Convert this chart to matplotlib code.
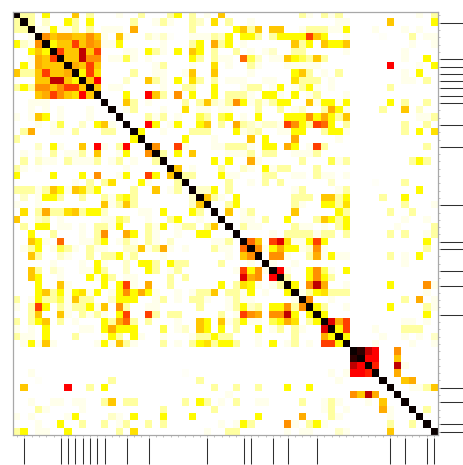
import numpy as np
import matplotlib
matplotlib.use("Agg")
import matplotlib.pyplot as plt

N = 58
# Colour level of each cell above the diagonal, {column: level} per row.
upper = [
 {1:2,2:2,4:3,8:4,10:2,14:1,17:2,21:2,22:3,24:2,26:1,28:4,39:2,40:1,42:2,43:1,44:2,55:1,57:2},
 {2:2,4:1.5,7:3,8:2,10:3,16:2,19:1,20:2,21:1,24:2,25:1.5,27:3.5,29:2,32:1,44:1,45:1,51:4,57:3},
 {3:1,4:1,5:3,6:1,7:1,8:2,10:2,12:1,13:1,14:1,16:4.5,24:2,30:3,31:4,32:2,33:4,35:4,36:4,39:1,40:2,41:2,42:2,43:1,44:1,45:3,49:1,53:1,55:1},
 {4:5,5:4,6:4.5,7:4.5,8:4,9:4,10:5,11:4,12:1,14:4,15:1,18:1.5,19:1,20:1.5,21:0.5,24:1,25:1,26:1,27:2,28:1.5,29:3,31:3,32:3,33:2,35:2,36:3,37:3,38:3,39:3,40:6,41:4,42:3,45:1,50:0.5,54:2,56:1,57:1},
 {5:3,6:4,7:4,8:6,9:4,10:5,11:4.5,12:1,13:1,14:3,20:1,24:2,25:3,27:4.5,28:2,29:3,31:1,38:4,39:2,40:3,42:4,43:3,44:3,45:4,54:1,57:1},
 {6:6,7:4,8:4,9:8,10:4,11:6,15:1,16:1,18:3,19:2,20:1,22:3,24:4,25:3,27:2,30:2,32:1,34:1,35:1.5,38:2,39:2,45:1,53:1},
 {7:4,8:4,9:8,10:5,11:5,13:1,14:1,15:2.5,16:1,18:1,24:3,25:2,27:2,28:1,29:1,31:5.5,32:2.5,33:1.5,35:1,36:1,37:4,38:3,39:2.5,40:2,41:4,42:2,53:1,56:3},
 {8:4.5,9:4,10:6,11:4,19:1,20:2,24:1,27:3.5,29:1,32:2,33:1,37:1,38:1,39:1,40:1,41:1,51:7,55:1,57:3},
 {9:3,10:6,11:3.5,16:2,19:1,20:1,23:1,24:4,27:4,32:1,38:3,39:4,40:2,42:1,44:2,53:1,55:3},
 {10:4,11:7,15:1.5,18:4,19:2,20:1,22:3,24:3.5,25:2,27:2,29:1,30:1,31:1,34:1,35:1,38:3.5,39:2,40:2,41:2,43:1,53:1,54:1,56:2},
 {11:4,13:1,14:1,20:1,23:2,24:2,27:3,31:1,32:2,33:2,35:1,36:3,38:1,39:2,40:3,41:1,43:1,51:2},
 {15:3,18:7,19:4,20:2,22:5,24:3,27:3,29:2,30:2,31:2,32:1,34:3,35:3,36:1,38:3,40:1,41:2,45:1},
 {15:4,16:2,18:1,23:2,25:2,26:4,27:1.5,28:1,29:2,30:5,31:3,32:1,33:2,34:1,35:2,36:3,37:3,40:4,41:1,42:3,43:3,44:1,45:3,51:3,53:2,56:2},
 {15:1,16:2,20:1,23:3.5,25:1,26:1,28:1,29:1,33:2,36:2,38:1,39:1.5,42:2,43:4.5,44:3,45:1,50:2,53:4,55:1.5},
 {18:2,19:1,20:2,22:1,25:2.5,26:2,28:2.5,29:3,31:1,33:3,37:3,38:3,39:3,40:5,41:3,42:4.5,43:3,44:2,45:4,55:1,56:1,57:2},
 {18:7,19:3,21:1,22:3,25:3,26:4,28:2,30:4.5,31:2,32:1.5,33:1,34:1.5,35:1.5,36:1,37:6,38:5,39:3,40:2,41:6,42:5.5,43:3,45:2,53:2,56:2},
 {17:3,20:1,24:2,25:2,26:2,30:3,31:1,32:1.5,33:2,36:1,37:1,38:3,39:3,42:2,43:3,44:3,45:1,53:2,55:3,57:3.5},
 {23:3,27:1,32:4,34:3,38:4.5,44:1},
 {19:5,22:6,23:1,27:1,28:1,29:2,30:2,31:2,32:1,34:3,35:3,37:4.5,38:3,40:1,41:6,42:2,56:2},
 {20:2,22:3,24:4,29:1,30:1,31:1,32:2,34:2,35:2,38:1,39:1,40:1,41:2},
 {27:3,29:3,32:4.5,33:1,39:2,43:2.5,44:1,45:2,54:2,55:3,56:2},
 {22:4,24:1,28:2,31:1.5,32:1,34:3,35:1,36:2,37:2,41:2},
 {23:2,24:2,28:3,29:1,30:1,34:2,35:2,38:1,39:1,41:2,42:1,43:1,45:1},
 {29:2,32:1,34:2,36:2,43:1.5,49:0.5,53:2},
 {25:1.5,26:1.5,27:3,29:2,38:1,39:2,44:1,45:2,55:3},
 {26:4,27:2,28:1,30:3,38:2,39:2,40:2,42:4,43:4,44:2,45:3,50:2,53:3},
 {29:2,30:3,38:2,39:1,42:3,43:3,44:2,45:3.5,53:2,57:1},
 {29:4,31:1,32:2,38:4,44:3,45:2,51:2,54:2},
 {31:1,32:1,34:2,37:3,41:2,42:4,43:3,44:2,45:3,53:1,56:1},
 {31:2,32:1,33:1,38:2,39:1,40:1,42:1,44:2,45:3,52:1,57:2},
 {35:1,37:2,38:2,39:2,40:2,41:1,42:2,43:2,45:2,51:2,53:2,56:1,57:2},
 {32:5.5,33:4,35:6,36:7.5,37:3.5,38:1,39:1,40:3,41:6,42:3,56:3},
 {33:5,34:1,35:3,36:4.5,37:3,38:3,39:1,40:1.5,41:5,42:1,56:2},
 {35:5,36:5,37:1,40:2,41:4.5,42:1,43:3,44:1,45:1,51:2,53:1,55:3},
 {35:1,38:1,53:1},
 {36:7,37:1,40:3,41:5,42:2.5,43:1,45:3},
 {37:2,40:3,41:5,42:3,43:2},
 {38:3,40:5,41:8,42:4.5,45:1,51:3,56:5,57:1},
 {39:1,40:2,41:3,42:3.5,43:2,44:2,45:2,56:1},
 {40:5,43:1,53:2,55:4.5,57:1},
 {41:3,42:2,45:1,51:3,56:2,57:1},
 {42:3,56:3},
 {43:7.5,44:4.5,45:6,53:1,54:1,56:1},
 {44:3,45:6,49:1,53:2,54:2,55:2},
 {45:3,50:1,53:1,55:1,57:1.5},
 {49:1,54:1,57:1},
 {47:8.8,48:8,49:7,52:5},
 {48:7,49:7,52:4},
 {49:6.5,52:8,53:1},
 {52:4.5},
 {53:4,54:4.5},
 {54:1,55:1,56:2,57:4},
 {},
 {},
 {56:2},
 {},
 {},
 {},
]
marked = [1, 6, 7, 8, 9, 10, 11, 12, 15, 18, 26, 31, 32, 35, 37, 41, 51, 53, 56, 57]

level_points = [0, 1, 2, 3, 4, 5, 6, 7, 8, 9]
hot_points = [0, 0.022, 0.095, 0.26, 0.336, 0.42, 0.54, 0.635, 0.73, 1.0]

matrix = np.zeros((N, N))
for r, row in enumerate(upper):
    matrix[r, r] = 9
    for c, level in row.items():
        matrix[r, c] = level
        matrix[c, r] = level

W, H = 463, 465
fig = plt.figure(figsize=(W / 100, H / 100), dpi=100)
L, R, T, B = 13.3, 437.6, 11.8, 435.2
ax = fig.add_axes([L / W, 1 - B / H, (R - L) / W, (B - T) / H])
ax.imshow(np.interp(matrix, level_points, hot_points), cmap="hot_r", vmin=0, vmax=1,
          aspect="auto", interpolation="nearest")
for s in ax.spines.values():
    s.set_color("#a8a8a8")
    s.set_linewidth(0.9)
ax.xaxis.tick_bottom()
ax.yaxis.tick_right()
ax.set_xticks(np.arange(N))
ax.set_yticks(np.arange(N))
ax.tick_params(length=1.3, width=0.5, color="#a8a8a8", labelbottom=False, labelright=False)

x_tr = ax.get_xaxis_transform()
y_tr = ax.get_yaxis_transform()
ax.vlines(marked, -2.8 / (B - T), -28.5 / (B - T), transform=x_tr, clip_on=False,
          color="#303030", linewidth=0.75)
ax.hlines(marked, 1 + 2.8 / (R - L), 1 + 25.4 / (R - L), transform=y_tr, clip_on=False,
          color="#303030", linewidth=0.75)
fig.savefig("out.png", dpi=100)
